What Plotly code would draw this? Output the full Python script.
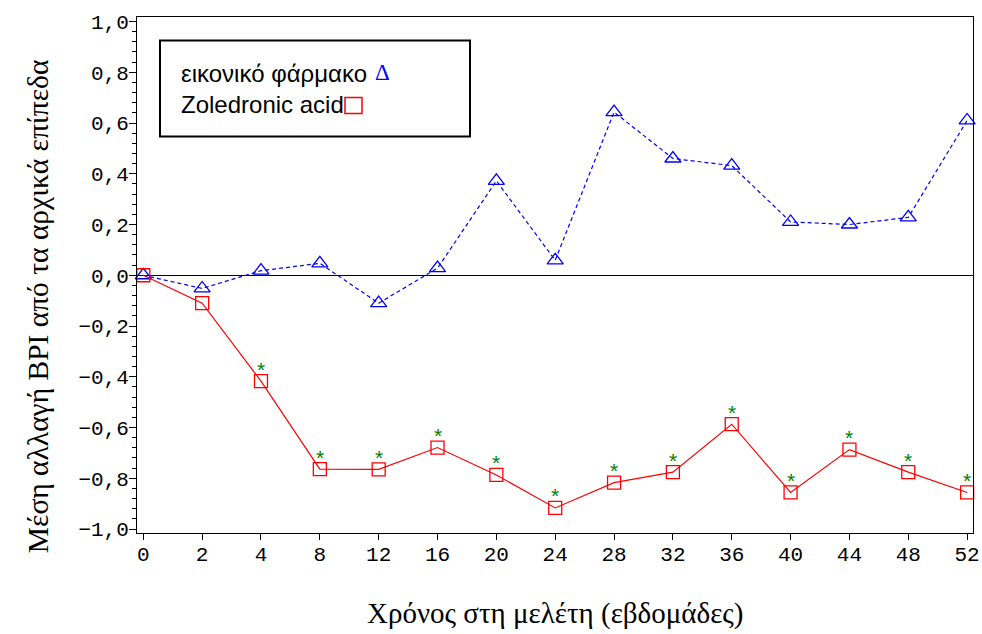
import plotly.graph_objects as go

weeks = ["0", "2", "4", "8", "12", "16", "20", "24", "28", "32", "36", "40", "44", "48", "52"]
placebo = [0.0, -0.052, 0.018, 0.047, -0.11, 0.028, 0.372, 0.059, 0.643, 0.46, 0.432, 0.21, 0.2, 0.228, 0.61]
zoledronic = [0.0, -0.11, -0.417, -0.764, -0.765, -0.679, -0.787, -0.917, -0.817, -0.776, -0.587, -0.856, -0.687, -0.776, -0.856]
significant = [False, False, True, True, True, True, True, True, True, True, True, True, True, True, True]

y_tickvals = [1.0, 0.8, 0.6, 0.4, 0.2, 0.0, -0.2, -0.4, -0.6, -0.8, -1.0]
y_ticktext = ["1,0", "0,8", "0,6", "0,4", "0,2", "0,0", "\u22120,2", "\u22120,4", "\u22120,6", "\u22120,8", "\u22121,0"]

legend_placebo = "εικονικό φάρμακο"
legend_zol = "Zoledronic acid"
x_title = "Χρόνος στη μελέτη (εβδομάδες)"
y_title = "Μέση αλλαγή BPI από τα αρχικά επίπεδα"

W, H = 982, 634
L, R, T, B = 137, 973, 16.5, 533


def px(x):
    return (x - L) / (R - L)


def py(y):
    return (B - y) / (B - T)


fig = go.Figure()

fig.add_trace(go.Scatter(
    x=weeks, y=placebo, mode="lines+markers",
    line=dict(color="#0000ff", width=1.2, dash="4px,3px"),
    marker=dict(symbol="triangle-up-open", size=14, color="#0000ff", line=dict(width=1.3)),
    showlegend=False, cliponaxis=False,
))
fig.add_trace(go.Scatter(
    x=weeks, y=zoledronic, mode="lines+markers",
    line=dict(color="#ff0000", width=1.2),
    marker=dict(symbol="square-open", size=13, color="#ff0000", line=dict(width=1.3)),
    showlegend=False, cliponaxis=False,
))

# significance asterisks anchored to the data points (category index on x)
for i, (v, s) in enumerate(zip(zoledronic, significant)):
    if s:
        fig.add_annotation(x=i, y=v, xref="x", yref="y", text="*", showarrow=False,
                           xanchor="center", yanchor="middle", yshift=12,
                           font=dict(color="#008000", size=21, family="Liberation Sans"))

tickfont = dict(family="Liberation Mono", size=21, color="black")

fig.update_layout(
    width=W, height=H,
    margin=dict(l=L, r=W - R, t=T, b=H - B, pad=0, autoexpand=False),
    plot_bgcolor="white", paper_bgcolor="white",
    xaxis=dict(
        type="category", range=[-0.107, 14.1], automargin=False,
        showline=True, linecolor="black", linewidth=1, mirror=True,
        ticks="outside", ticklen=6, tickcolor="black", ticklabelstandoff=-4,
        showgrid=False, zeroline=False, tickfont=tickfont,
    ),
    yaxis=dict(
        range=[-1.0157, 1.0177], automargin=False,
        tickmode="array", tickvals=y_tickvals, ticktext=y_ticktext,
        showline=True, linecolor="black", linewidth=1, mirror=True,
        ticks="outside", ticklen=7, tickcolor="black", ticklabelstandoff=-4,
        minor=dict(tickmode="linear", tick0=0, dtick=0.04, ticks="outside", ticklen=4, tickcolor="black"),
        showgrid=False, zeroline=True, zerolinecolor="black", zerolinewidth=1,
        tickfont=tickfont,
    ),
    showlegend=False,
)

# legend box
fig.add_shape(type="rect", xref="paper", yref="paper",
              x0=px(160), x1=px(470), y0=py(136), y1=py(40),
              line=dict(color="black", width=2), fillcolor="white", layer="above")
fig.add_annotation(xref="paper", yref="paper", x=px(179), y=py(73), text=legend_placebo,
                   showarrow=False, xanchor="left", yanchor="middle",
                   font=dict(family="Liberation Sans", size=24, color="black"))
fig.add_annotation(xref="paper", yref="paper", x=px(382), y=py(72), text="Δ",
                   showarrow=False, xanchor="center", yanchor="middle",
                   font=dict(family="Liberation Serif", size=23, color="#0000ff"))
fig.add_annotation(xref="paper", yref="paper", x=px(179), y=py(104), text=legend_zol,
                   showarrow=False, xanchor="left", yanchor="middle",
                   font=dict(family="Liberation Sans", size=24, color="black"))
fig.add_shape(type="rect", xref="paper", yref="paper",
              x0=px(345), x1=px(362), y0=py(113), y1=py(97),
              line=dict(color="#ff0000", width=1.5), layer="above")

# axis titles
fig.add_annotation(xref="paper", yref="paper", x=px(555), y=py(614), text=x_title,
                   showarrow=False, xanchor="center", yanchor="middle",
                   font=dict(family="Liberation Serif", size=29, color="black"))
fig.add_annotation(xref="paper", yref="paper", x=px(38), y=py(306), text=y_title,
                   showarrow=False, xanchor="center", yanchor="middle", textangle=-90,
                   font=dict(family="Liberation Serif", size=29.5, color="black"))

fig.write_html("out.html", config={"displayModeBar": False},
               post_script="document.body.style.margin='0';")
